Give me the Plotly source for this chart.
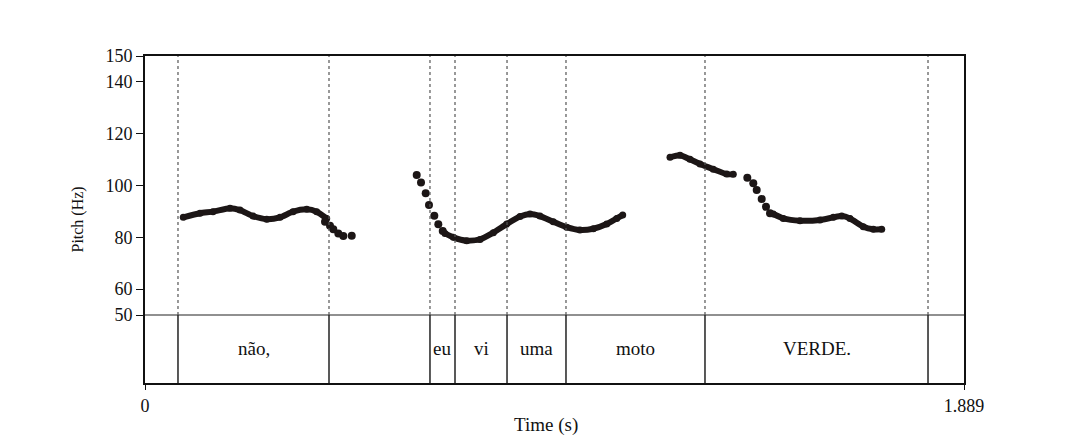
import plotly.graph_objects as go

# ---- data ----
t_max = 1.889
boundaries = [0.0761, 0.4244, 0.6573, 0.7150, 0.8350, 0.9710, 1.2916, 1.8060]
interval_labels = ["", "não,", "", "eu", "vi", "uma", "moto", "VERDE.", ""]

y_ticks = [50, 60, 80, 100, 120, 140, 150]
x_ticks = [0, 1.889]
x_tick_text = ["0", "1.889"]

nao_t = [0.0883, 0.1269, 0.1568, 0.1961, 0.2191, 0.2491, 0.2807, 0.3114, 0.3414, 0.3730, 0.3960, 0.4191]
nao_hz = [87.7, 89.3, 89.9, 91.2, 90.5, 88.2, 87.0, 87.7, 89.9, 90.8, 89.9, 87.3]
nao_tail_t = [0.4152, 0.4267, 0.4343, 0.4459, 0.4574, 0.4768]
nao_tail_hz = [86.0, 84.5, 83.1, 81.5, 80.5, 80.6]

eu_head_t = [0.6267, 0.6366, 0.6474, 0.6550, 0.6673, 0.6765, 0.6867]
eu_head_hz = [104.1, 101.2, 97.0, 92.5, 88.3, 85.0, 82.4]
euvi_t = [0.6920, 0.7111, 0.7420, 0.7727, 0.8034, 0.8343, 0.8649, 0.8880, 0.9111, 0.9418,
          0.9727, 1.0033, 1.0340, 1.0649, 1.0880, 1.1018]
euvi_hz = [81.5, 80.0, 78.7, 79.2, 81.8, 85.1, 88.0, 89.0, 88.2, 86.0,
           83.9, 82.8, 83.3, 85.1, 87.3, 88.6]

verde1_t = [1.2109, 1.2340, 1.2570, 1.2801, 1.3108, 1.3417, 1.3569]
verde1_hz = [110.9, 111.7, 110.1, 108.3, 106.3, 104.4, 104.3]
verde_dots_t = [1.3892, 1.4030, 1.4109, 1.4224, 1.4323, 1.4416]
verde_dots_hz = [103.0, 100.9, 98.3, 94.8, 91.8, 89.3]
verde2_t = [1.4492, 1.4722, 1.5108, 1.5569, 1.5876, 1.6069, 1.6261, 1.6568, 1.6798, 1.6992]
verde2_hz = [89.0, 87.3, 86.4, 86.7, 87.7, 88.2, 87.3, 84.1, 83.1, 83.1]

# ---- figure ----
FONT = "Liberation Serif"
INK = "#1c1616"
y_bottom = 23.75
tier_mid = 36.9

solid_t = nao_t + [None] + euvi_t + [None] + verde1_t + [None] + verde2_t
solid_hz = nao_hz + [None] + euvi_hz + [None] + verde1_hz + [None] + verde2_hz
dots_t = nao_tail_t + eu_head_t + verde_dots_t
dots_hz = nao_tail_hz + eu_head_hz + verde_dots_hz

fig = go.Figure()
fig.add_trace(go.Scatter(x=solid_t, y=solid_hz, mode="lines+markers",
                         line=dict(color=INK, width=6, shape="spline", smoothing=0.6),
                         marker=dict(color=INK, size=7), hoverinfo="skip", showlegend=False))
fig.add_trace(go.Scatter(x=dots_t, y=dots_hz, mode="markers",
                         marker=dict(color=INK, size=8), hoverinfo="skip", showlegend=False))

shapes = []
# horizontal separator at 50 Hz
shapes.append(dict(type="line", xref="x", yref="y", x0=0, x1=t_max, y0=50, y1=50,
                   line=dict(color="#222", width=1.2)))
for b in boundaries:
    shapes.append(dict(type="line", xref="x", yref="y", x0=b, x1=b, y0=50, y1=150,
                       line=dict(color="#555", width=1.2, dash="dot")))
    shapes.append(dict(type="line", xref="x", yref="y", x0=b, x1=b, y0=y_bottom, y1=50,
                       line=dict(color="#222", width=1.5)))

edges = [0] + boundaries + [t_max]
annotations = []
for i, lab in enumerate(interval_labels):
    if lab:
        annotations.append(dict(x=(edges[i] + edges[i + 1]) / 2, y=tier_mid, xref="x", yref="y",
                                text=lab, showarrow=False,
                                font=dict(family=FONT, size=19, color="#111")))
annotations.append(dict(x=-0.083, y=0.5, xref="paper", yref="paper", text="Pitch (Hz)",
                        textangle=-90, showarrow=False, xanchor="center", yanchor="middle",
                        font=dict(family=FONT, size=16, color="#111")))
annotations.append(dict(x=0.49, y=-0.09, xref="paper", yref="paper", text="Time (s)",
                        showarrow=False, xanchor="center", yanchor="top",
                        font=dict(family=FONT, size=19, color="#111")))

fig.update_layout(
    width=1070, height=430,
    margin=dict(l=137, r=114, t=48, b=55),
    paper_bgcolor="white", plot_bgcolor="white",
    shapes=shapes, annotations=annotations,
    xaxis=dict(range=[0, t_max], tickvals=x_ticks, ticktext=x_tick_text,
               showgrid=False, zeroline=False, showline=True, mirror=True,
               linecolor="#111", linewidth=1.8, ticks="outside", ticklen=5,
               tickcolor="#111", tickfont=dict(family=FONT, size=18, color="#111")),
    yaxis=dict(range=[y_bottom, 150], tickvals=y_ticks,
               showgrid=False, zeroline=False, showline=True, mirror=True,
               linecolor="#111", linewidth=1.8, ticks="outside", ticklen=7,
               tickcolor="#111", tickfont=dict(family=FONT, size=18, color="#111")),
)

fig.write_html("out.html")
